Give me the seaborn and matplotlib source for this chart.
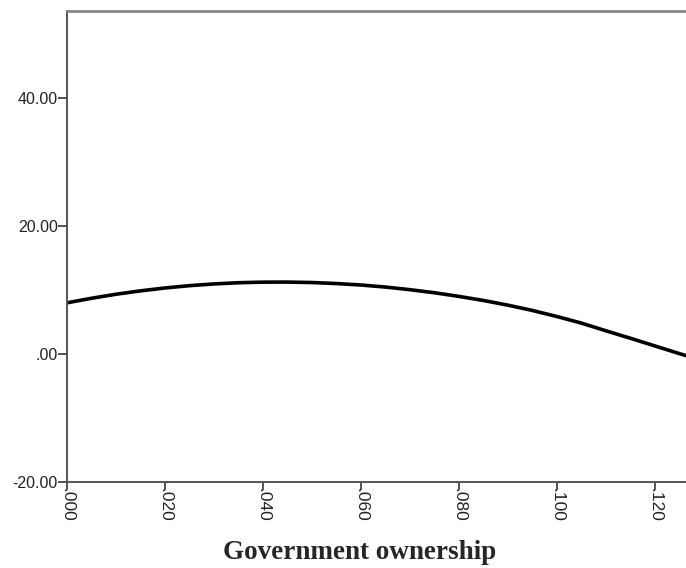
import matplotlib
matplotlib.use("Agg")
import matplotlib.pyplot as plt
import seaborn as sns
import pandas as pd

# Values
gov_ownership = [0.000, 0.005, 0.010, 0.015, 0.020, 0.025, 0.030, 0.035, 0.040,
                 0.045, 0.050, 0.055, 0.060, 0.065, 0.070, 0.075, 0.080, 0.085,
                 0.090, 0.095, 0.100, 0.105, 0.110, 0.115, 0.120, 0.125, 0.1263]
fitted_value = [8.00, 8.71, 9.34, 9.87, 10.32, 10.68, 10.95, 11.14, 11.23,
                11.24, 11.17, 11.01, 10.78, 10.46, 10.05, 9.57, 9.00, 8.36,
                7.63, 6.80, 5.85, 4.82, 3.62, 2.45, 1.25, 0.05, -0.25]

x_ticks = [0.000, 0.020, 0.040, 0.060, 0.080, 0.100, 0.120]
x_tick_labels = [".000", ".020", ".040", ".060", ".080", ".100", ".120"]
y_ticks = [40, 20, 0, -20]
y_tick_labels = ["40.00", "20.00", ".00", "-20.00"]
x_label = "Government ownership"

df = pd.DataFrame({"x": gov_ownership, "y": fitted_value})

sns.set_theme(style="white")
plt.rcParams["font.family"] = ["Liberation Sans", "DejaVu Sans"]

fig = plt.figure(figsize=(6.86, 5.68), dpi=100)
ax = fig.add_axes([67 / 686, 1 - 482 / 568, 1 - 67 / 686, (482 - 11) / 568])

sns.lineplot(data=df, x="x", y="y", ax=ax, color="black", linewidth=2.6)

ax.set_xlim(0.0, 0.1263)
ax.set_ylim(-20, 53.6)
ax.set_xticks(x_ticks)
ax.set_xticklabels(x_tick_labels, rotation=270, fontsize=12.5, color="#222222")
ax.set_yticks(y_ticks)
ax.set_yticklabels(y_tick_labels, fontsize=11.5, color="#222222")
ax.tick_params(axis="both", which="major", direction="out", length=6.5,
               width=1.3, color="#444444", pad=0, left=True, bottom=True)
ax.tick_params(axis="x", length=5.5, pad=-1)
ax.set_xlabel("")
ax.set_ylabel("")

for side in ["left", "bottom"]:
    ax.spines[side].set_color("#555555")
    ax.spines[side].set_linewidth(1.4)
ax.spines["top"].set_color("#888888")
ax.spines["top"].set_linewidth(2.0)
ax.spines["right"].set_visible(False)

fig.text(360 / 686, 1 - 559 / 568, x_label, ha="center", va="baseline",
         fontsize=19.5, fontweight="bold", family=["Liberation Serif", "DejaVu Serif"])

fig.savefig("out.png", dpi=100)
